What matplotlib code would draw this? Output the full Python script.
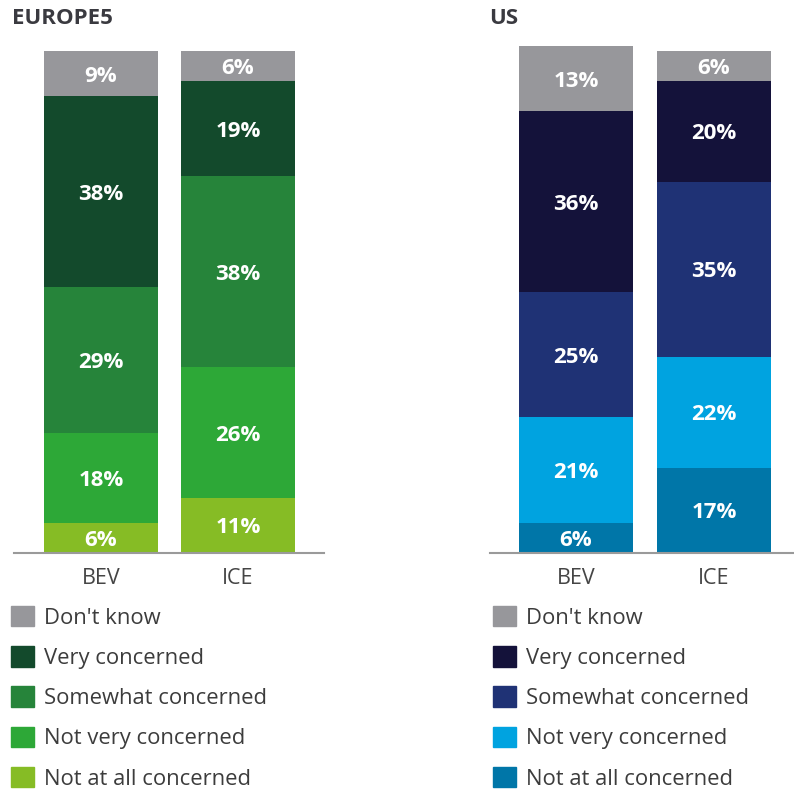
import matplotlib.pyplot as plt
from matplotlib.patches import Patch

plt.rcParams['font.family'] = ['Open Sans', 'DejaVu Sans']

# categories, bottom to top of each stack
levels = ['Not at all concerned', 'Not very concerned', 'Somewhat concerned',
          'Very concerned', "Don't know"]
vehicles = ['BEV', 'ICE']

# values in %, order follows `levels`
eu_bev = [6, 18, 29, 38, 9]
eu_ice = [11, 26, 38, 19, 6]
us_bev = [6, 21, 25, 36, 13]
us_ice = [17, 22, 35, 20, 6]

grey = '#97979b'
eu_colors = ['#86bc25', '#2da837', '#26843a', '#134a2c', grey]
us_colors = ['#0076a8', '#00a3e0', '#1f3275', '#14123a', grey]

fig = plt.figure(figsize=(7.94, 7.90), dpi=100)
W, H = 794, 790


def panel(left, right, xlim, title, title_x, bev, ice, colors, leg_x):
    bottom_px = 553
    top_px = 553 - 101 * 5.02
    ax = fig.add_axes([left / W, 1 - bottom_px / H, (right - left) / W,
                       (bottom_px - top_px) / H])
    x = [0, 1]
    base = [0, 0]
    for i, lvl in enumerate(levels):
        vals = [bev[i], ice[i]]
        ax.bar(x, vals, width=0.83, bottom=base, color=colors[i], label=lvl)
        for xi, v, b in zip(x, vals, base):
            ax.text(xi, b + v / 2, f'{v}%', ha='center', va='center_baseline',
                    color='white', fontsize=16, fontweight='bold')
        base = [b + v for b, v in zip(base, vals)]
    ax.set_ylim(0, 101)
    ax.set_xlim(*xlim)
    ax.set_xticks(x)
    ax.set_xticklabels(vehicles, fontsize=15.5, color='#454545')
    ax.tick_params(axis='x', length=0, pad=11)
    ax.set_yticks([])
    for s in ['top', 'left', 'right']:
        ax.spines[s].set_visible(False)
    ax.spines['bottom'].set_color('#9a9a9a')
    ax.spines['bottom'].set_linewidth(1.5)
    fig.text(title_x / W, 1 - 19 / H, title, fontsize=16, fontweight='bold',
             color='#3a3a40', va='center', ha='left')
    handles = [Patch(color=colors[i]) for i in range(4, -1, -1)]
    labels = [levels[i] for i in range(4, -1, -1)]
    fig.legend(handles, labels, loc='upper left',
               bbox_to_anchor=(leg_x / W, 1 - 606 / H), frameon=False,
               fontsize=15.8, handlelength=1.05, handleheight=1.05,
               handletextpad=0.45, labelspacing=0.8, borderaxespad=0,
               borderpad=0, labelcolor='#3c3c3c')
    return ax


panel(14, 324, (-0.635, 1.628), 'EUROPE5', 12, eu_bev, eu_ice, eu_colors, 11)
panel(490, 793, (-0.623, 1.572), 'US', 489, us_bev, us_ice, us_colors, 493)

fig.savefig('out.png', dpi=100)
